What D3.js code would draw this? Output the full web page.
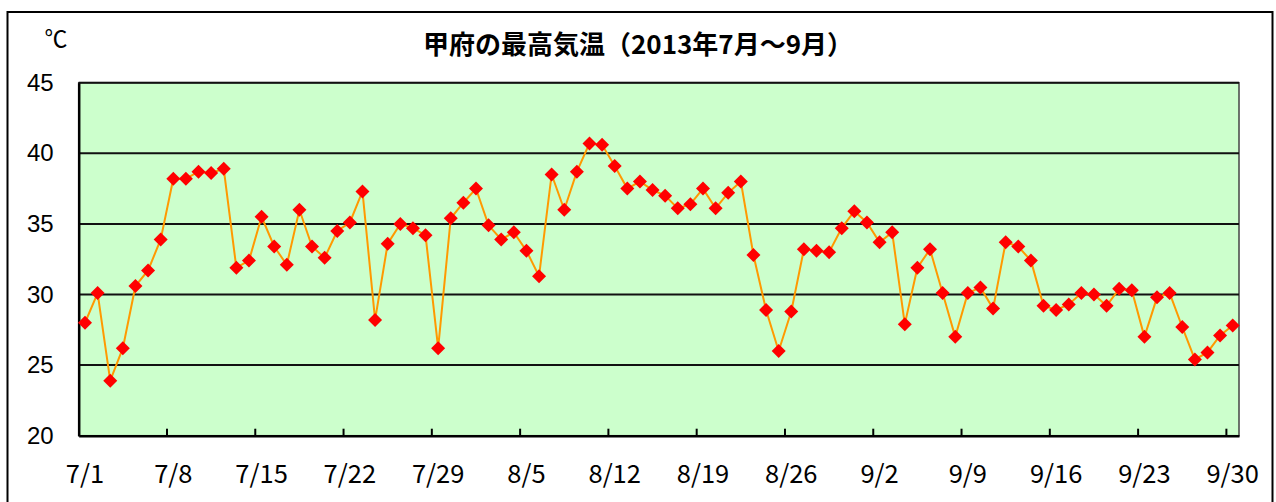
<!DOCTYPE html>
<html>
<head>
<meta charset="utf-8">
<script src="https://cdn.jsdelivr.net/npm/d3@7"></script>
<style>
  body { margin: 0; background: #fff; }
  text { font-family: "Noto Sans CJK JP", "Noto Sans", sans-serif; }
</style>
</head>
<body>
<div id="chart"></div>
<script>
// 月ごとの日数 -> カテゴリ (7/1 ~ 9/30)
var months = [7, 8, 9]
var monthDays = [31, 31, 30]

// 最高気温 (℃)
var temps = [
  28.0, 30.1, 23.9, 26.2, 30.6, 31.7, 33.9, 38.2, 38.2, 38.7,
  38.6, 38.9, 31.9, 32.4, 35.5, 33.4, 32.1, 36.0, 33.4, 32.6,
  34.5, 35.1, 37.3, 28.2, 33.6, 35.0, 34.7, 34.2, 26.2, 35.4,
  36.5, 37.5, 34.9, 33.9, 34.4, 33.1, 31.3, 38.5, 36.0, 38.7,
  40.7, 40.6, 39.1, 37.5, 38.0, 37.4, 37.0, 36.1, 36.4, 37.5,
  36.1, 37.2, 38.0, 32.8, 28.9, 26.0, 28.8, 33.2, 33.1, 33.0,
  34.7, 35.9, 35.1, 33.7, 34.4, 27.9, 31.9, 33.2, 30.1, 27.0,
  30.1, 30.5, 29.0, 33.7, 33.4, 32.4, 29.2, 28.9, 29.3, 30.1,
  30.0, 29.2, 30.4, 30.3, 27.0, 29.8, 30.1, 27.7, 25.4, 25.9,
  27.1, 27.8
]

var tickLabels = ['7/1', '7/8', '7/15', '7/22', '7/29', '8/5', '8/12',
  '8/19', '8/26', '9/2', '9/9', '9/16', '9/23', '9/30']
var yTicks = [20, 25, 30, 35, 40, 45]

var days = []
months.forEach(function(m, i) {
  for (var d = 1; d <= monthDays[i]; d++) days.push(m + '/' + d)
})

var data = days.map(function(d, i) { return { day: d, value: temps[i] } })

var width = 1276, height = 502
var plot = { left: 78.7, top: 82.7, right: 1239, bottom: 435.7 }

var svg = d3.select('#chart')
  .append('svg')
  .attr('width', width)
  .attr('height', height)

// 外枠
svg.append('rect')
  .attr('x', 7.5).attr('y', 12)
  .attr('width', 1265).attr('height', 520)
  .attr('fill', 'none')
  .attr('stroke', '#000')
  .attr('stroke-width', 2)

var x = d3.scaleBand()
  .domain(days)
  .range([plot.left, plot.right])
  .padding(0)

var y = d3.scaleLinear()
  .domain([20, 45])
  .range([plot.bottom, plot.top])

// プロットエリア
svg.append('rect')
  .attr('x', plot.left).attr('y', plot.top)
  .attr('width', plot.right - plot.left)
  .attr('height', plot.bottom - plot.top)
  .attr('fill', '#ccffcc')
  .attr('stroke', '#444')
  .attr('stroke-width', 1.5)

// 目盛線
svg.append('g')
  .selectAll('line')
  .data(yTicks.slice(1))
  .enter()
  .append('line')
  .attr('x1', plot.left).attr('x2', plot.right)
  .attr('y1', d => y(d)).attr('y2', d => y(d))
  .attr('stroke', '#111')
  .attr('stroke-width', 2)

// y軸
var yAxis = svg.append('g')
  .attr('transform', 'translate(' + plot.left + ',0)')
  .call(d3.axisLeft(y).tickValues(yTicks).tickSize(0).tickPadding(25))
yAxis.select('.domain').attr('stroke', '#000').attr('stroke-width', 2.5)
yAxis.selectAll('text')
  .attr('font-size', 24)
  .attr('fill', '#000')
  .style('font-family', '"Liberation Sans", Arial, sans-serif')

// x軸 (目盛はカテゴリの境界)
var xAxis = svg.append('g')
  .attr('transform', 'translate(0,' + plot.bottom + ')')
  .call(d3.axisBottom(x).tickValues(tickLabels).tickSize(0).tickPadding(29))
xAxis.select('.domain').attr('stroke', '#000').attr('stroke-width', 2.5)
xAxis.selectAll('text')
  .attr('font-size', 25.5)
  .attr('fill', '#000')

var boundaries = days.filter((d, i) => i > 0 && i % 7 === 0)
svg.append('g')
  .selectAll('line')
  .data(boundaries)
  .enter()
  .append('line')
  .attr('x1', d => x(d)).attr('x2', d => x(d))
  .attr('y1', plot.bottom).attr('y2', plot.bottom - 7)
  .attr('stroke', '#000')
  .attr('stroke-width', 2)

// 折れ線
var line = d3.line()
  .x(d => x(d.day) + x.bandwidth() / 2)
  .y(d => y(d.value))

svg.append('path')
  .datum(data)
  .attr('d', line)
  .attr('fill', 'none')
  .attr('stroke', '#ff9900')
  .attr('stroke-width', 2)

// マーカー (ひし形)
var diamond = d3.symbol().type(d3.symbolSquare).size(98)
svg.append('g')
  .selectAll('path')
  .data(data)
  .enter()
  .append('path')
  .attr('d', diamond)
  .attr('transform', d => 'translate(' + (x(d.day) + x.bandwidth() / 2) + ',' + y(d.value) + ') rotate(45)')
  .attr('fill', '#ff0000')

// タイトル
svg.append('text')
  .attr('x', 638).attr('y', 54)
  .attr('text-anchor', 'middle')
  .attr('font-size', 26)
  .attr('font-weight', 'bold')
  .text('甲府の最高気温（2013年7月～9月）')

svg.append('text')
  .attr('x', 56).attr('y', 47)
  .attr('text-anchor', 'middle')
  .attr('font-size', 23)
  .text('℃')
</script>
</body>
</html>
